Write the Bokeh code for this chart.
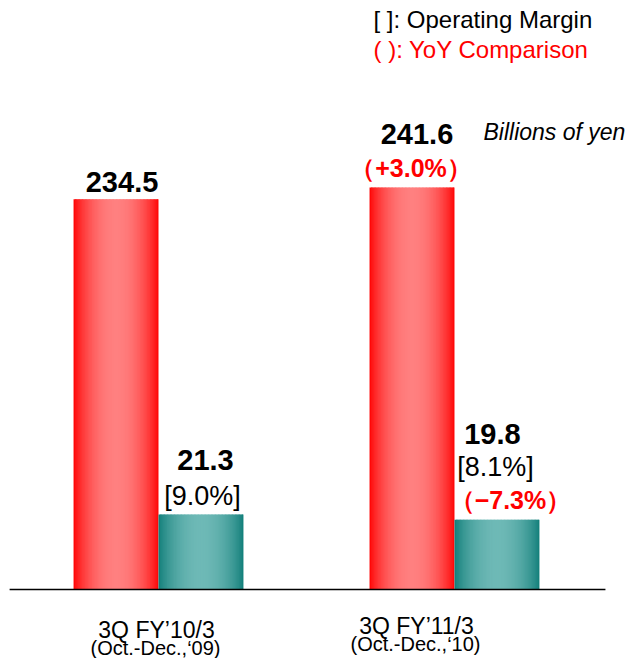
import math
from bokeh.plotting import figure
from bokeh.models import Range1d, Label, ColumnDataSource
from bokeh.embed import file_html
from bokeh.resources import INLINE

# ---------------- data ----------------
categories = ["3Q FY\u201910/3", "3Q FY\u201911/3"]
periods = ["(Oct.-Dec.,\u201809)", "(Oct.-Dec.,\u201810)"]
net_sales = [234.5, 241.6]          # billions of yen
operating_income = [21.3, 19.8]     # billions of yen
operating_margin = ["[9.0%]", "[8.1%]"]
yoy_sales = [None, "\uff08+3.0%\uff09"]
yoy_income = [None, "\uff08\u22127.3%\uff09"]

# ---------------- layout ----------------
W, H = 632, 658
FONT = "Liberation Sans"
bar_w = 0.287

p = figure(width=W, height=H, output_backend="svg", toolbar_location=None,
           x_range=Range1d(-0.5338, 1.6014), y_range=Range1d(-41.47, 353.97),
           min_border=0, outline_line_color=None, background_fill_color="white")
p.extra_y_ranges = {"op": Range1d(-19.57, 167.09)}
p.axis.visible = False
p.grid.visible = False


def mix(c0, c1, f):
    return "#%02x%02x%02x" % tuple(int(round(a + (b - a) * f)) for a, b in zip(c0, c1))


def profile(t):
    return math.sin(math.pi * t) ** 0.75


def gradient_bar(left, right, top, edge, center, y_range_name="default"):
    n = 60
    lefts, rights, tops, bottoms, colors = [], [], [], [], []
    for k in range(n):
        t = (k + 0.5) / n
        lefts.append(left + (right - left) * k / n)
        rights.append(left + (right - left) * (k + 1.6) / n if k < n - 1 else right)
        tops.append(top)
        bottoms.append(0)
        colors.append(mix(edge, center, profile(t)))
    src = ColumnDataSource(dict(left=lefts, right=rights, top=tops, bottom=bottoms, color=colors))
    p.quad(left="left", right="right", top="top", bottom="bottom", fill_color="color",
           line_color=None, source=src, y_range_name=y_range_name)


RED_EDGE, RED_CENTER = (255, 0, 0), (255, 128, 128)
TEAL_EDGE, TEAL_CENTER = (14, 124, 119), (110, 185, 182)

for i in range(len(categories)):
    gradient_bar(i - bar_w, i, net_sales[i], RED_EDGE, RED_CENTER)
    gradient_bar(i, i + bar_w, operating_income[i], TEAL_EDGE, TEAL_CENTER, "op")

# baseline
axis_start, axis_end = -0.503, 1.510
p.segment(x0=[axis_start], x1=[axis_end], y0=[0], y1=[0], line_color="black", line_width=1.5)


def lab(x, y, text, size, color="black", bold=True, dx=0, dy=0, yr="default", align="center"):
    p.add_layout(Label(x=x, y=y, text=text, x_offset=dx, y_offset=dy, y_range_name=yr,
                       text_font=FONT, text_font_size=f"{size}px",
                       text_font_style="bold" if bold else "normal",
                       text_color=color, text_align=align, text_baseline="middle"))


# value labels on net sales bars
sales_dx = [6, 5]
sales_dy = [17, 53]
for i, v in enumerate(net_sales):
    lab(i - bar_w / 2, v, f"{v:.1f}", 29, dx=sales_dx[i], dy=sales_dy[i])
    if yoy_sales[i]:
        lab(i - bar_w / 2, v, yoy_sales[i], 25, color="#ff0000", dx=-1, dy=19)

# value labels on operating income bars
inc_dx = [4.5, -4.5]
inc_dy = [54, 86]
mar_dx = [1.5, -1.5]
mar_dy = [18, 53]
for i, v in enumerate(operating_income):
    lab(i + bar_w / 2, v, f"{v:.1f}", 29, dx=inc_dx[i], dy=inc_dy[i], yr="op")
    lab(i + bar_w / 2, v, operating_margin[i], 27, dx=mar_dx[i], dy=mar_dy[i], yr="op", bold=False)
    if yoy_income[i]:
        lab(i + bar_w / 2, v, yoy_income[i], 25, color="#ff0000", dx=13.5, dy=20, yr="op")

# category labels
cat_dx = [-2, -38]
cat_y = [29, 33]
per_y = [11, 15]
for i in range(len(categories)):
    p.add_layout(Label(x=i, y=cat_y[i], y_units="screen", x_offset=cat_dx[i], text=categories[i],
                       text_font=FONT, text_font_size="23px", text_align="center",
                       text_baseline="middle", text_color="black"))
    p.add_layout(Label(x=i, y=per_y[i], y_units="screen", x_offset=cat_dx[i] - 1, text=periods[i],
                       text_font=FONT, text_font_size="20px", text_align="center",
                       text_baseline="middle", text_color="black"))

# legend notes and unit
p.add_layout(Label(x=373, y=639, x_units="screen", y_units="screen", text="[ ]: Operating Margin",
                   text_font=FONT, text_font_size="24px", text_baseline="middle", text_color="black"))
p.add_layout(Label(x=373, y=609, x_units="screen", y_units="screen", text="( ): YoY Comparison",
                   text_font=FONT, text_font_size="24px", text_baseline="middle", text_color="#ff0000"))
p.add_layout(Label(x=483, y=527, x_units="screen", y_units="screen", text="Billions of yen",
                   text_font=FONT, text_font_size="23px", text_font_style="italic",
                   text_baseline="middle", text_color="black"))

open("out.html", "w").write(file_html(p, INLINE))
